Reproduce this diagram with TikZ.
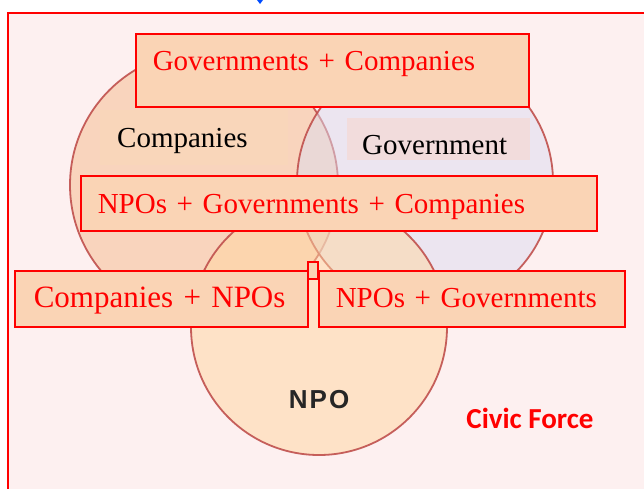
\documentclass[tikz,border=0pt]{standalone}
\usepackage{fontspec}
\setmainfont{Liberation Serif}
\newfontfamily\ringfont[LetterSpace=8]{Liberation Sans}
\newfontfamily\civicfont{Carlito}
\usetikzlibrary{shapes.geometric}

\definecolor{backfill}{RGB}{253,240,240}
\definecolor{boxfill}{RGB}{250,212,181}
\definecolor{complabel}{RGB}{249,214,186}
\definecolor{govlabel}{RGB}{242,220,220}
\definecolor{compfill}{RGB}{246,185,140}
\definecolor{govfill}{RGB}{220,220,240}
\definecolor{npofill}{RGB}{255,214,160}
\definecolor{ringline}{RGB}{192,80,77}

\begin{document}
\begin{tikzpicture}[x=1pt,y=-1pt]
        \tikzstyle{ring} = [circle, draw=ringline, draw opacity=0.9, line width=1.8pt, fill opacity=0.5, inner sep=0pt];
        \tikzstyle{pair} = [rectangle, draw=red, line width=1.5pt, fill=boxfill, text=red, font=\fontsize{29}{34}\selectfont, inner xsep=17pt, inner ysep=0pt, align=left, anchor=north west];
        \tikzstyle{tag} = [rectangle, font=\fontsize{29}{34}\selectfont, inner xsep=17pt, inner ysep=0pt, align=left, anchor=north west];

        \useasboundingbox (0,0) rectangle (644,488);
        \begin{scope}
        \clip (0,0) rectangle (644,488);
        \filldraw[fill=backfill, draw=red, line width=2.5pt] (8,13) rectangle (660,500);
        \end{scope}
        \fill[blue!70!cyan] (257,0) -- (263,0) -- (260,4) -- cycle;

        % the three circles
        \node(companies) [ring, fill=compfill, minimum size=268pt] at (204,185) {};
        \node(government) [ring, fill=govfill, minimum size=256pt] at (425,182) {};
        \node(npo) [ring, fill=npofill, minimum size=256pt] at (319,327) {};

        \node(complbl) [tag, fill=complabel, text width=154pt, text height=37pt, text depth=18pt] at (100,110) {Companies};
        \node(govlbl) [tag, fill=govlabel, inner xsep=15pt, text width=153pt, text height=36pt, text depth=6pt] at (347,118) {Government};
        \node(npolbl) [font=\ringfont\bfseries\fontsize{26}{30}\selectfont, text=black!85] at (319,400) {NPO};

        % overlap boxes
        \filldraw[fill=boxfill, draw=red, line width=1.5pt] (308,262) rectangle (318,279);
        \node(govcomp) [pair, text width=359pt, text height=37pt, text depth=36pt] at (135,33) {Governments + Companies};
        \node(all) [pair, text width=482pt, text height=38pt, text depth=17pt] at (80,175) {NPOs + Governments + Companies};
        \node(compnpo) [pair, inner xsep=19pt, text width=255pt, text height=37pt, text depth=19pt, font=\fontsize{31}{36}\selectfont] at (14,270) {Companies + NPOs};
        \node(npogov) [pair, text width=272pt, text height=37pt, text depth=19pt] at (318,270) {NPOs + Governments};

        \node(civic) [text=red, font=\civicfont\bfseries\fontsize{29}{34}\selectfont] at (530,418) {Civic Force};

    \end{tikzpicture}
\end{document}
